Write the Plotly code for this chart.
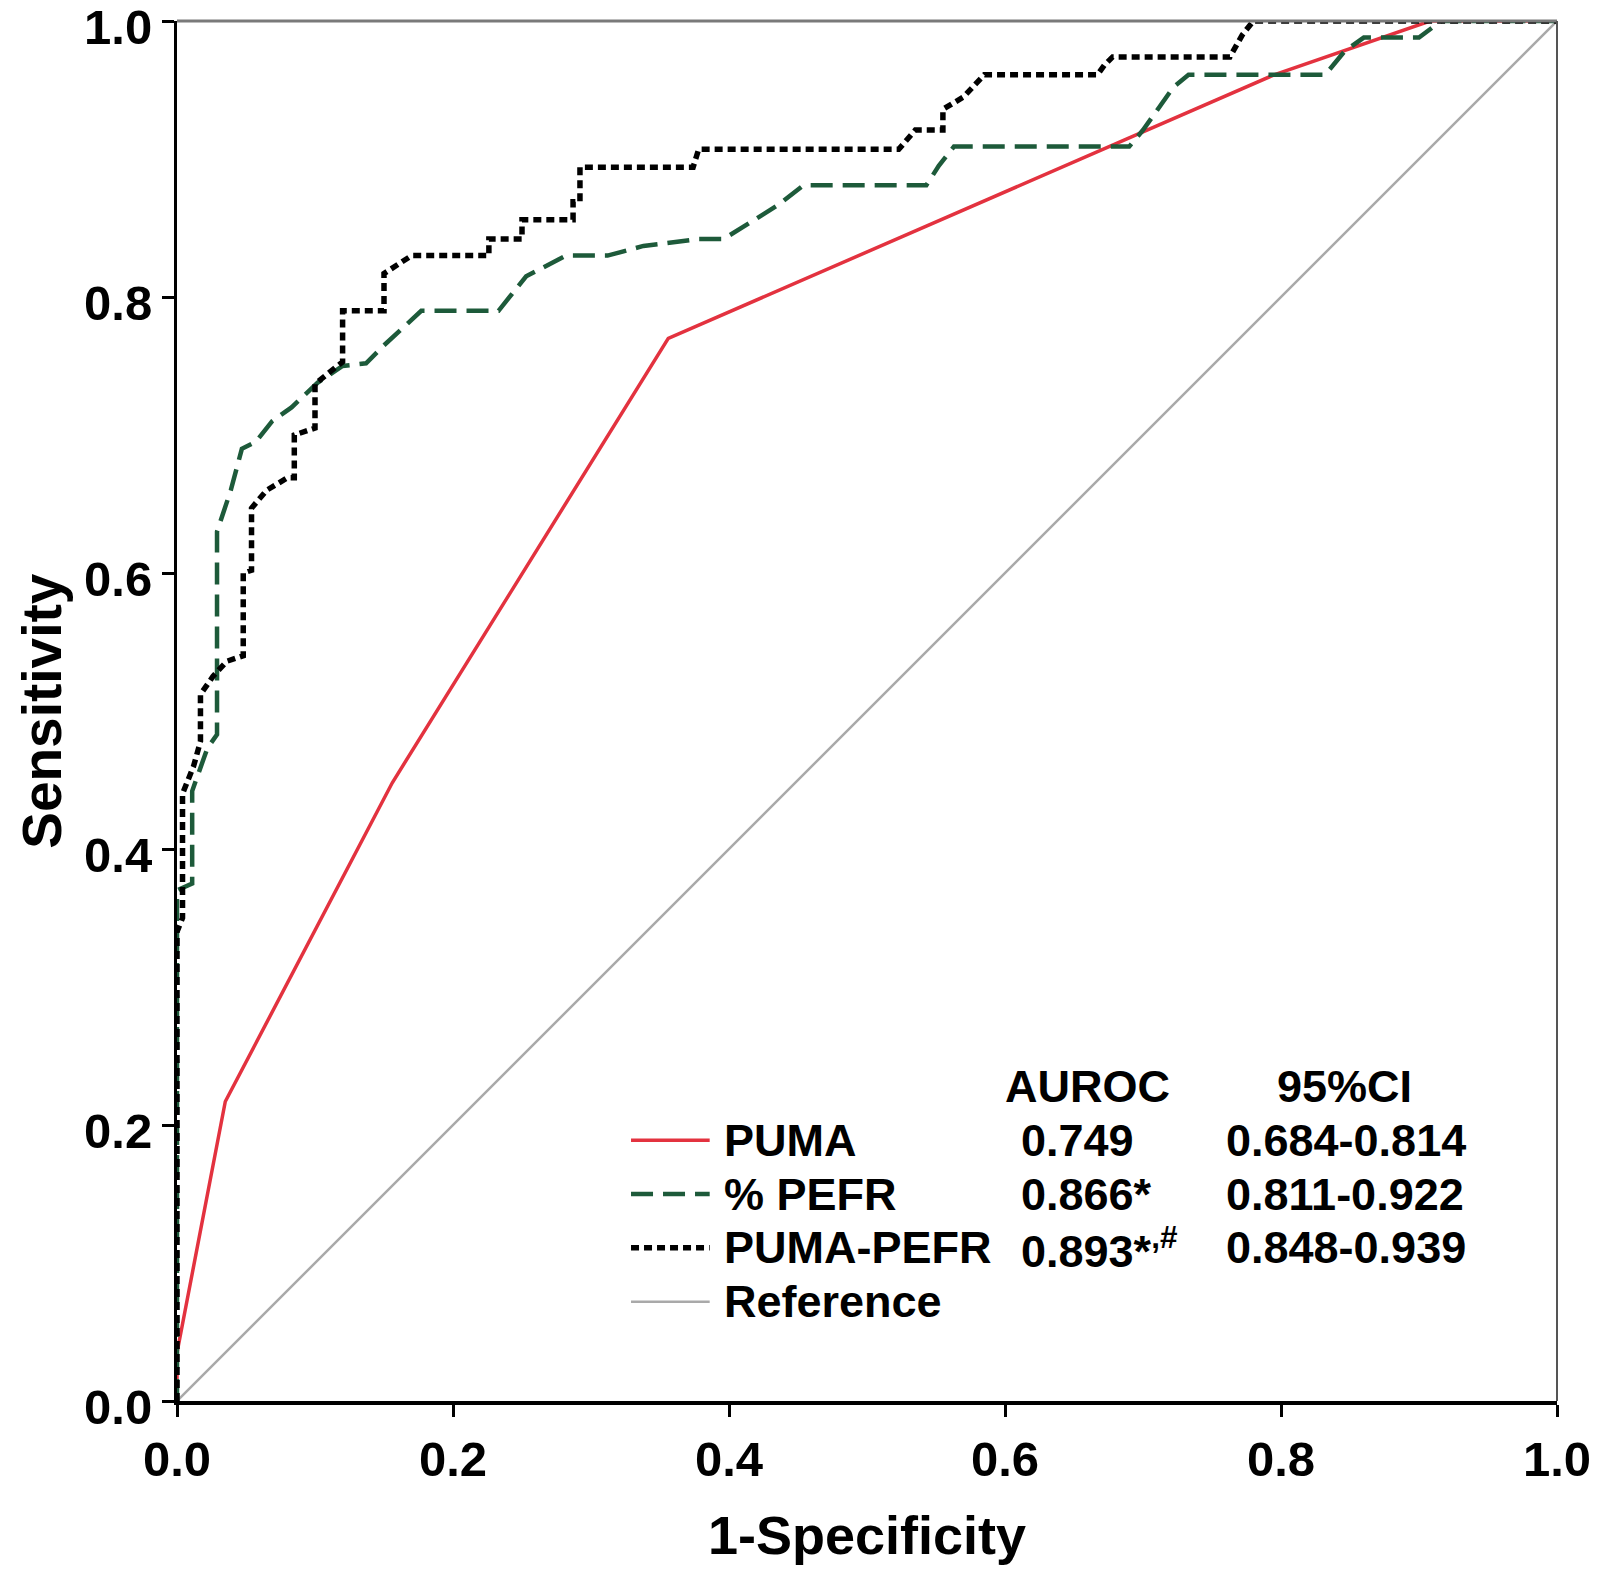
import plotly.graph_objects as go

# ---------------- data ----------------
puma_x = [0, 0, 0.035, 0.156, 0.356, 0.795, 0.908, 1.0]
puma_y = [0, 0.035, 0.217, 0.448, 0.770, 0.961, 1.0, 1.0]

pefr_x = [0, 0, 0.011, 0.011, 0.022, 0.029, 0.029, 0.039, 0.047, 0.057, 0.069,
          0.083, 0.102, 0.120, 0.137, 0.150, 0.177, 0.233, 0.253, 0.282, 0.312,
          0.338, 0.378, 0.396, 0.417, 0.436, 0.454, 0.543, 0.552, 0.563, 0.690,
          0.700, 0.710, 0.722, 0.733, 0.832, 0.846, 0.860, 0.900, 0.908, 0.916, 1.0]
pefr_y = [0, 0.370, 0.375, 0.442, 0.473, 0.483, 0.630, 0.660, 0.690, 0.695, 0.710,
          0.720, 0.738, 0.750, 0.752, 0.765, 0.790, 0.790, 0.815, 0.830, 0.830,
          0.837, 0.842, 0.842, 0.855, 0.867, 0.881, 0.881, 0.895, 0.909, 0.909,
          0.921, 0.935, 0.952, 0.961, 0.961, 0.978, 0.988, 0.988, 0.994, 1.0, 1.0]

combo_x = [0, 0, 0.004, 0.004, 0.012, 0.017, 0.017, 0.026, 0.036, 0.048, 0.048,
           0.054, 0.054, 0.065, 0.080, 0.085, 0.085, 0.100, 0.100, 0.110, 0.120,
           0.120, 0.150, 0.150, 0.170, 0.226, 0.226, 0.250, 0.250, 0.287, 0.287,
           0.292, 0.292, 0.374, 0.378, 0.523, 0.535, 0.555, 0.555, 0.570, 0.585,
           0.667, 0.672, 0.678, 0.763, 0.772, 0.780, 1.0]
combo_y = [0, 0.340, 0.350, 0.440, 0.460, 0.478, 0.512, 0.525, 0.536, 0.540, 0.600,
           0.602, 0.647, 0.660, 0.669, 0.669, 0.700, 0.705, 0.737, 0.745, 0.753,
           0.790, 0.790, 0.817, 0.830, 0.830, 0.842, 0.842, 0.856, 0.856, 0.869,
           0.869, 0.894, 0.894, 0.907, 0.907, 0.921, 0.921, 0.936, 0.945, 0.961,
           0.961, 0.968, 0.974, 0.974, 0.990, 1.0, 1.0]

ref_x = [0, 1]
ref_y = [0, 1]

series_names = ["PUMA", "% PEFR", "PUMA-PEFR", "Reference"]
auroc_text = ["0.749", "0.866*", "0.893*<sup>,#</sup>", ""]
ci_text = ["0.684-0.814", "0.811-0.922", "0.848-0.939", ""]
header_auroc = "AUROC"
header_ci = "95%CI"

tick_vals = [0.0, 0.2, 0.4, 0.6, 0.8, 1.0]
tick_text = ["0.0", "0.2", "0.4", "0.6", "0.8", "1.0"]

x_title = "1-Specificity"
y_title = "Sensitivity"

# ---------------- styles ----------------
RED = "#e3323f"
GREEN = "#1d5a3a"
BLACK = "#000000"
GRAY = "#a9a9a9"
FONT = "Liberation Sans, Arial, sans-serif"

styles = [
    dict(color=RED, width=3.5, dash="solid"),
    dict(color=GREEN, width=4.5, dash="22px,10px"),
    dict(color=BLACK, width=5.5, dash="8px,5px"),
    dict(color=GRAY, width=2.5, dash="solid"),
]

fig = go.Figure()
series = [(ref_x, ref_y, 3), (puma_x, puma_y, 0), (pefr_x, pefr_y, 1), (combo_x, combo_y, 2)]
for xs, ys, i in series:
    fig.add_trace(go.Scatter(x=xs, y=ys, mode="lines", name=series_names[i],
                             line=styles[i], showlegend=False, hoverinfo="skip"))

# ---------------- legend / table (text + sample lines) ----------------
row_y = [0.189, 0.150, 0.111, 0.072]
tfont = dict(size=45, family=FONT, color="black", weight="bold")
annots = []
shapes = []
for i, name in enumerate(series_names):
    shapes.append(dict(type="line", xref="x", yref="y", x0=0.329, x1=0.386,
                       y0=row_y[i], y1=row_y[i], line=styles[i]))
    annots.append(dict(x=0.395, y=row_y[i], xref="x", yref="y", text=name,
                       showarrow=False, xanchor="left", yanchor="middle", font=tfont))
    if auroc_text[i]:
        annots.append(dict(x=0.610, y=row_y[i], xref="x", yref="y", text=auroc_text[i],
                           showarrow=False, xanchor="left", yanchor="middle", font=tfont))
    if ci_text[i]:
        annots.append(dict(x=0.759, y=row_y[i], xref="x", yref="y", text=ci_text[i],
                           showarrow=False, xanchor="left", yanchor="middle", font=tfont))
annots.append(dict(x=0.660, y=0.228, xref="x", yref="y", text=header_auroc,
                   showarrow=False, xanchor="center", yanchor="middle", font=tfont))
annots.append(dict(x=0.846, y=0.228, xref="x", yref="y", text=header_ci,
                   showarrow=False, xanchor="center", yanchor="middle", font=tfont))

# y-axis title placed as a rotated annotation (close to the page edge, as in the reference)
annots.append(dict(x=-0.098, y=0.5, xref="paper", yref="paper", text=y_title,
                   textangle=-90, showarrow=False, xanchor="center", yanchor="middle",
                   font=dict(size=55, family=FONT, color="black", weight="bold")))

# top and right frame lines
shapes.append(dict(type="line", xref="paper", yref="paper", x0=0, x1=1, y0=1, y1=1,
                   line=dict(color="#7a7a7a", width=3)))
shapes.append(dict(type="line", xref="paper", yref="paper", x0=1, x1=1, y0=0, y1=1,
                   line=dict(color="#555555", width=2)))

axis_common = dict(
    range=[0, 1], tickvals=tick_vals, ticktext=tick_text,
    showgrid=False, zeroline=False, showline=True, linecolor="black",
    ticks="outside", ticklen=12, tickwidth=3, tickcolor="black",
    ticklabeloverflow="allow",
    tickfont=dict(size=49, family=FONT, color="black", weight="bold"),
)

# the page body adds an 8px margin, so the figure is sized to fit the window
fig.update_layout(
    width=1586, height=1563,
    margin=dict(l=169, r=37, t=13, b=170, autoexpand=False),
    paper_bgcolor="white", plot_bgcolor="white",
    xaxis=dict(**axis_common, linewidth=4,
               title=dict(text=x_title, standoff=32,
                          font=dict(size=54, family=FONT, color="black", weight="bold"))),
    yaxis=dict(**axis_common, linewidth=3, ticklabelshift=6),
    annotations=annots, shapes=shapes,
    showlegend=False,
)

fig.write_html("out.html")
